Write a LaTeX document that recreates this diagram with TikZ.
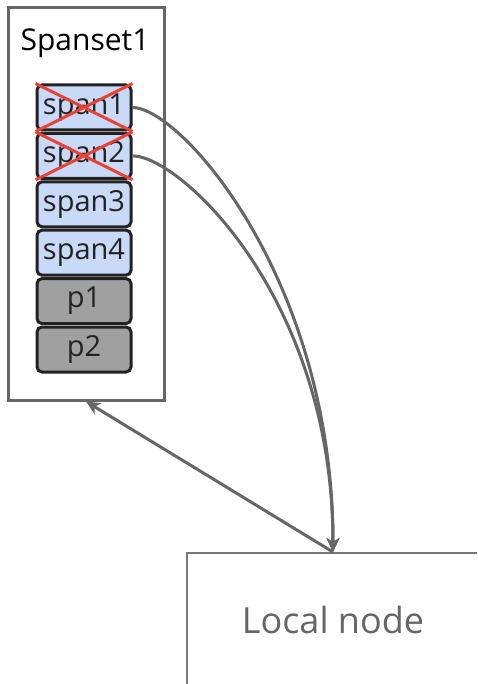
\documentclass[tikz,border=0pt]{standalone}
\usepackage{fontspec}
\setmainfont{Open Sans}
\usetikzlibrary{arrows.meta}
\definecolor{frame}{HTML}{666666}
\definecolor{spanfill}{HTML}{C9DAF8}
\definecolor{pfill}{HTML}{A0A0A0}
\definecolor{ink}{HTML}{222222}
\definecolor{redx}{HTML}{EA4335}
\definecolor{localgray}{HTML}{777777}
\definecolor{localtext}{HTML}{666666}
\tikzset{
  spanbox/.style={draw=ink, line width=3pt, rounded corners=5pt, minimum width=94pt, minimum height=45pt, inner sep=0pt, text=ink, font=\fontsize{29}{32}\selectfont},
  bluebox/.style={spanbox, fill=spanfill},
  graybox/.style={spanbox, fill=pfill},
  redcross/.style={draw=redx, line width=3pt},
  conn/.style={draw=frame, line width=3pt, -{Stealth[length=14pt,width=13pt,inset=4pt]}},
}
\begin{document}
\begin{tikzpicture}[x=1pt,y=-1pt]
\clip (0,0) rectangle (477,684);
\fill[white] (0,0) rectangle (477,684);
\node[draw=frame, line width=3pt, minimum width=156pt, minimum height=392pt, inner sep=0pt] (spanset) at (86,204) {};
\node[font=\fontsize{30}{33}\selectfont, text=black] (title) at (85,43) {Spanset1};
\node[bluebox] (s1) at (84,107.5) {span1};
\node[bluebox] (s2) at (84,155.9) {span2};
\node[bluebox] (s3) at (84,204.3) {span3};
\node[bluebox] (s4) at (84,252.7) {span4};
\node[graybox] (p1) at (84,301.1) {p1};
\node[graybox] (p2) at (84,349.5) {p2};
\draw[redcross] (s1.north west) -- (s1.south east) (s1.south west) -- (s1.north east);
\draw[redcross] (s2.north west) -- (s2.south east) (s2.south west) -- (s2.north east);
\node[draw=localgray, line width=2pt, minimum width=292pt, minimum height=134pt, inner sep=0pt, text=localtext, font=\fontsize{36}{40}\selectfont] (local) at (333,620) {Local node};
\draw[conn] (s1.east) .. controls +(48,0) and +(0,-273) .. (local.north);
\draw[conn] (s2.east) .. controls +(48,0) and +(0,-253) .. (local.north);
\draw[conn] (local.north) -- (spanset.south);
\end{tikzpicture}
\end{document}
